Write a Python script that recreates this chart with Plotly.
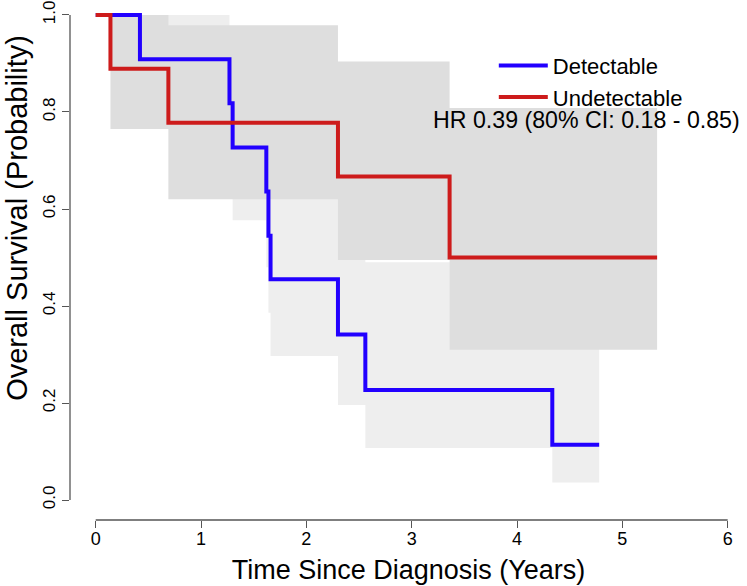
import plotly.graph_objects as go

# ---- data ----
det_time = [0.0, 0.42, 1.27, 1.30, 1.62, 1.64, 1.66, 2.30, 2.56, 4.335]
det_surv = [1.0, 0.909, 0.818, 0.727, 0.636, 0.545, 0.455, 0.341, 0.227, 0.114]
det_lower = [1.0, 0.80, 0.69, 0.577, 0.48, 0.386, 0.297, 0.196, 0.107, 0.036]
det_upper = [1.0, 1.0, 0.95, 0.88, 0.80, 0.72, 0.63, 0.53, 0.49, 0.33]
det_end = 4.78

und_time = [0.0, 0.14, 0.69, 2.30, 3.36]
und_surv = [1.0, 0.889, 0.778, 0.667, 0.5]
und_lower = [1.0, 0.765, 0.62, 0.495, 0.31]
und_upper = [1.0, 1.0, 0.979, 0.904, 0.808]
und_end = 5.33

x_ticks = [0, 1, 2, 3, 4, 5, 6]
y_ticks = [0.0, 0.2, 0.4, 0.6, 0.8, 1.0]
y_tick_text = ["0.0", "0.2", "0.4", "0.6", "0.8", "1.0"]

hr_text = "HR 0.39 (80% CI: 0.18 - 0.85)"
x_title = "Time Since Diagnosis (Years)"
y_title = "Overall Survival (Probability)"

BLUE = "#2200FF"
RED = "#CD1B1B"
LIGHT = "#EEEEEE"
DARK = "#DEDEDE"
FONT = "Liberation Sans, Arial, sans-serif"


def band_polygon(times, lower, upper, end):
    xs, ys = [], []
    n = len(times)
    for i in range(n):
        t1 = times[i + 1] if i + 1 < n else end
        xs += [times[i], t1]
        ys += [upper[i], upper[i]]
    for i in reversed(range(n)):
        t1 = times[i + 1] if i + 1 < n else end
        xs += [t1, times[i]]
        ys += [lower[i], lower[i]]
    return xs, ys


fig = go.Figure()

bx, by = band_polygon(det_time, det_lower, det_upper, det_end)
fig.add_trace(go.Scatter(x=bx, y=by, fill="toself", fillcolor=LIGHT, mode="lines",
                         line=dict(width=0, color=LIGHT), showlegend=False, hoverinfo="skip"))
rx, ry = band_polygon(und_time, und_lower, und_upper, und_end)
fig.add_trace(go.Scatter(x=rx, y=ry, fill="toself", fillcolor=DARK, mode="lines",
                         line=dict(width=0, color=DARK), showlegend=False, hoverinfo="skip"))

fig.add_trace(go.Scatter(x=det_time + [det_end], y=det_surv + [det_surv[-1]],
                         mode="lines", line=dict(color=BLUE, width=4, shape="hv"),
                         name="Detectable"))
fig.add_trace(go.Scatter(x=und_time + [und_end], y=und_surv + [und_surv[-1]],
                         mode="lines", line=dict(color=RED, width=4, shape="hv"),
                         name="Undetectable"))

fig.add_annotation(x=3.18, y=0.784, xref="x", yref="y", text=hr_text, showarrow=False,
                   xanchor="left", yanchor="middle", font=dict(size=23.2, color="black", family=FONT))

# y-axis title placed like the reference (R mtext)
fig.add_annotation(x=-0.0783, y=0.581, xref="paper", yref="paper", text=y_title, showarrow=False,
                   textangle=-90, xanchor="center", yanchor="middle",
                   font=dict(size=29, color="black", family=FONT))

# R-style axis lines spanning only the tick range
fig.add_shape(type="line", xref="x", yref="paper", x0=0, x1=6, y0=0, y1=0,
              line=dict(color="#555555", width=1.3))
fig.add_shape(type="line", xref="paper", yref="y", x0=0, x1=0, y0=0, y1=1,
              line=dict(color="#555555", width=1.3))

fig.update_layout(
    width=747, height=586,
    margin=dict(l=70, r=0, t=0, b=66, autoexpand=False),
    paper_bgcolor="white", plot_bgcolor="white",
    font=dict(family=FONT, color="black"),
    showlegend=True,
    legend=dict(x=0.626, y=0.843, xanchor="left", yanchor="middle",
                bgcolor="rgba(0,0,0,0)", font=dict(size=22, color="black"),
                tracegroupgap=0, itemwidth=49),
    xaxis=dict(range=[-0.244, 6.1835], tickvals=x_ticks, ticks="outside", ticklen=7,
               tickcolor="#555555", tickwidth=1.3, showline=False, showgrid=False, zeroline=False,
               automargin=False, ticklabelstandoff=-5,
               tickfont=dict(size=18, color="black"),
               title=dict(text=x_title, font=dict(size=27, color="black"), standoff=12)),
    yaxis=dict(range=[-0.0412, 1.0309], tickvals=y_ticks, ticktext=y_tick_text, ticks="outside", ticklen=7,
               tickcolor="#555555", tickwidth=1.3, showline=False, showgrid=False, zeroline=False,
               automargin=False,
               tickangle=-90, tickfont=dict(size=17, color="black")),
)

fig.write_html("out.html", config={"displayModeBar": False},
               post_script="document.body.style.margin='0px';")
